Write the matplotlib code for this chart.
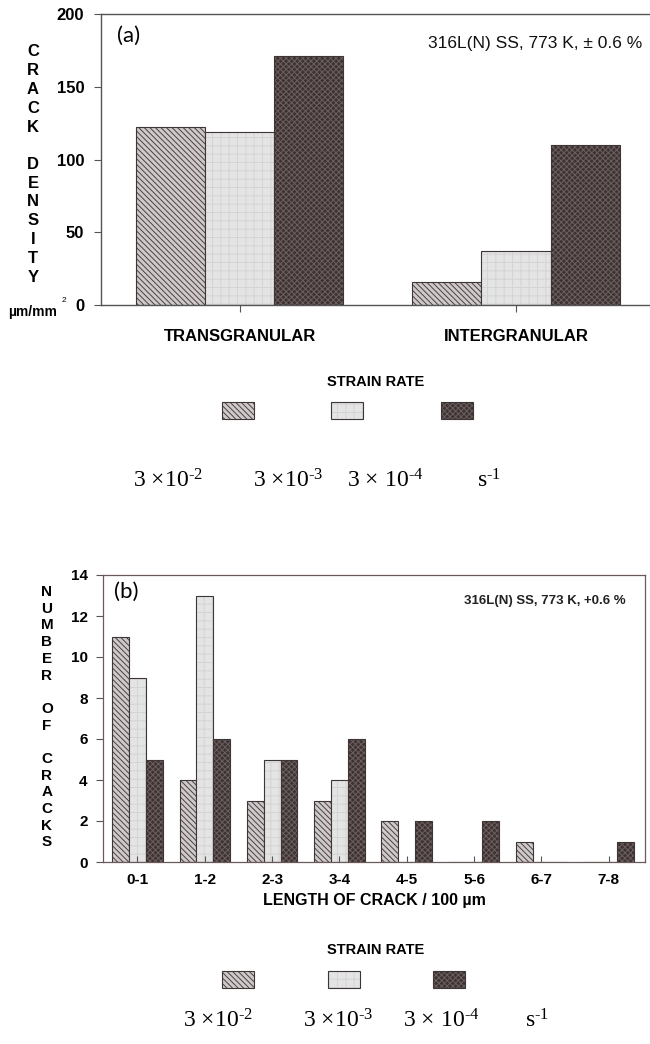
import matplotlib
matplotlib.use("Agg")
import matplotlib.pyplot as plt
from matplotlib.patches import Rectangle
import numpy as np

# ---- data ----
cat_a = ["TRANSGRANULAR", "INTERGRANULAR"]
fast_a = [122, 16]
mid_a = [119, 37]
slow_a = [171, 110]

cat_b = ["0-1", "1-2", "2-3", "3-4", "4-5", "5-6", "6-7", "7-8"]
fast_b = [11, 4, 3, 3, 2, 0, 1, 0]
mid_b = [9, 13, 5, 4, 0, 0, 0, 0]
slow_b = [5, 6, 5, 6, 2, 2, 0, 1]

rate_labels = [r"$3\ {\times}10^{‐2}$", r"$3\ {\times}10^{‐3}$", r"$3\ {\times}\ 10^{‐4}$", r"$s^{‐1}$"]

# ---- style ----
W, H = 650, 1044
plt.rcParams["font.family"] = ["Liberation Sans", "DejaVu Sans"]
plt.rcParams["mathtext.fontset"] = "custom"
plt.rcParams["mathtext.rm"] = "Liberation Serif"
plt.rcParams["mathtext.it"] = "Liberation Serif"
plt.rcParams["mathtext.default"] = "rm"
plt.rcParams["hatch.linewidth"] = 0.7

c_edge = "#3e3636"
styles = [
    dict(fc="#cfc9c9", hc="#4a4242", hatch="\\" * 6),   # 3e-2
    dict(fc="#e4e4e4", hc="#d4d4d4", hatch="++"),       # 3e-3
    dict(fc="#3e3333", hc="#6c5f5f", hatch="xxxxxx"),   # 3e-4
]


def fx(px):
    return px / W


def fy(py):
    return 1 - py / H


def draw_bars(ax, x, vals, st, width):
    ax.bar(x, vals, width=width, color=st["fc"], edgecolor=st["hc"], hatch=st["hatch"], linewidth=0)
    ax.bar(x, vals, width=width, fill=False, edgecolor=c_edge, linewidth=0.8)


def stacked_label(word_list, x, y_first, step, size):
    letters = []
    for i, w in enumerate(word_list):
        if i > 0:
            letters.append(" ")
        letters.extend(list(w))
    for i, ch in enumerate(letters):
        if ch != " ":
            fig.text(fx(x), fy(y_first + i * step), ch, ha="center", va="center",
                     fontsize=size, fontweight="bold")


fig = plt.figure(figsize=(W / 100, H / 100), dpi=100)

# ---- panel (a) ----
ax1 = fig.add_axes([fx(101), fy(305), fx(650 - 101), 291 / H])
xa = np.arange(len(cat_a))
for k, vals in enumerate([fast_a, mid_a, slow_a]):
    draw_bars(ax1, xa + (k - 1) * 0.25, vals, styles[k], 0.25)
ax1.set_xlim(-0.5036, 1.4855)
ax1.set_ylim(0, 200)
ax1.set_yticks([0, 50, 100, 150, 200])
ax1.set_xticks(xa)
ax1.set_xticklabels(cat_a, fontsize=12, fontweight="bold")
ax1.tick_params(axis="y", labelsize=12, length=5, width=0.8, color="#555555", pad=7)
ax1.tick_params(axis="x", length=5, width=0.8, color="#555555", pad=12)
for lab in ax1.get_yticklabels():
    lab.set_fontweight("bold")
ax1.spines["right"].set_visible(False)
for s in ["left", "top", "bottom"]:
    ax1.spines[s].set_color("#555555")
    ax1.spines[s].set_linewidth(1.0)

ax1.text(0.03, 0.925, "(a)", transform=ax1.transAxes, fontsize=16, family="Lato", va="center")
ax1.text(0.985, 0.90, "316L(N) SS, 773 K, ± 0.6 %", transform=ax1.transAxes,
         fontsize=12.5, ha="right", va="center", color="#111111")
stacked_label(["CRACK", "DENSITY"], 33, 52, 18.75, 12)
fig.text(fx(8), fy(312), "µm/mm", ha="left", va="center", fontsize=10, fontweight="bold")
fig.text(fx(62), fy(301), "2", ha="left", va="center", fontsize=6)

# ---- panel (b) ----
ax2 = fig.add_axes([fx(103), fy(862), fx(645 - 103), 287 / H])
xb = np.arange(len(cat_b))
for k, vals in enumerate([fast_b, mid_b, slow_b]):
    draw_bars(ax2, xb + (k - 1) * 0.25, vals, styles[k], 0.25)
ax2.set_xlim(-0.5126, 7.541)
ax2.set_ylim(0, 14)
ax2.set_yticks(range(0, 15, 2))
ax2.set_xticks(xb)
ax2.set_xticklabels(cat_b, fontsize=11, fontweight="bold")
ax2.tick_params(axis="y", labelsize=11, length=5, width=0.8, color="#555555", pad=6)
ax2.tick_params(axis="x", direction="in", length=4, width=0.8, color="#555555", pad=8)
for lab in ax2.get_yticklabels():
    lab.set_fontweight("bold")
for s in ax2.spines.values():
    s.set_color("#6a5a5a")
    s.set_linewidth(0.9)
ax2.set_xlabel("LENGTH OF CRACK / 100 µm", fontsize=11.5, fontweight="bold", labelpad=4)

ax2.text(0.02, 0.94, "(b)", transform=ax2.transAxes, fontsize=16, family="Lato", va="center")
ax2.text(0.965, 0.91, "316L(N) SS, 773 K, +0.6 %", transform=ax2.transAxes,
         fontsize=9.5, fontweight="bold", ha="right", va="center", color="#222222")
stacked_label(["NUMBER", "OF", "CRACKS"], 47, 592, 16.7, 11)

# ---- legends ----
def legend_block(y_title, y_box, box_x, text_x, y_text):
    fig.text(fx(376), fy(y_title), "STRAIN RATE", ha="center", va="center", fontsize=10.5, fontweight="bold")
    for k, x0 in enumerate(box_x):
        st = styles[k]
        r = Rectangle((fx(x0), fy(y_box + 17)), fx(32), 17 / H, transform=fig.transFigure,
                      facecolor=st["fc"], edgecolor=st["hc"], hatch=st["hatch"], linewidth=0)
        fig.add_artist(r)
        r2 = Rectangle((fx(x0), fy(y_box + 17)), fx(32), 17 / H, transform=fig.transFigure,
                       fill=False, edgecolor=c_edge, linewidth=0.8)
        fig.add_artist(r2)
    for lab, x0 in zip(rate_labels, text_x):
        fig.text(fx(x0), fy(y_text), lab, ha="left", va="baseline", fontsize=17)


legend_block(382, 402, [222, 331, 441], [133, 253, 347, 477], 488)
legend_block(950, 971, [222, 328, 433], [183, 303, 403, 525], 1028)

fig.savefig("out.png", dpi=100)
